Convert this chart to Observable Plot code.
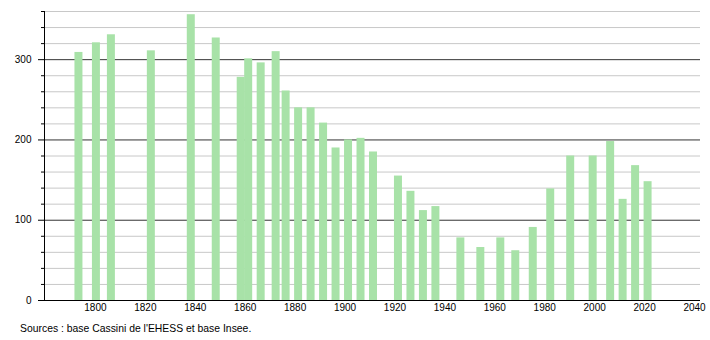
<!DOCTYPE html>
<html><head><meta charset="utf-8">
<script src="https://cdn.jsdelivr.net/npm/d3@7"></script>
<script src="https://cdn.jsdelivr.net/npm/@observablehq/plot@0.6"></script>
<style>
body{margin:0;background:#fff;font-family:"Liberation Sans",Arial,sans-serif;}
#chart{position:relative;width:710px;height:340px;}
#chart svg{position:absolute;left:0;top:0;}
#caption{position:absolute;left:20px;top:323px;font-size:10.4px;line-height:12px;color:#000;white-space:nowrap;}
</style></head><body>
<div id="chart"><div id="caption">Sources : base Cassini de l'EHESS et base Insee.</div></div>
<script>
const years = [1793, 1800, 1806, 1822, 1838, 1848, 1858, 1861, 1866, 1872, 1876, 1881, 1886, 1891, 1896, 1901, 1906, 1911, 1921, 1926, 1931, 1936, 1946, 1954, 1962, 1968, 1975, 1982, 1990, 1999, 2006, 2011, 2016, 2021];
const population = [309, 321, 331, 311, 356, 327, 278, 301, 296, 310, 261, 240, 240, 221, 190, 200, 202, 185, 155, 136, 112, 117, 78, 66, 78, 62, 91, 139, 180, 180, 198, 126, 168, 148];
const yMajorTicks = [0, 100, 200, 300];
const yMinorTicks = [20, 40, 60, 80, 120, 140, 160, 180, 220, 240, 260, 280, 320, 340, 360];
const xTicks = [1800, 1820, 1840, 1860, 1880, 1900, 1920, 1940, 1960, 1980, 2000, 2020, 2040];
const caption = "Sources : base Cassini de l'EHESS et base Insee.";

const data = years.map((y, i) => ({year: y, pop: population[i]}));
const barLeft = 1.2, barRight = 2.0;

const plot = Plot.plot({
  width: 710, height: 320,
  marginLeft: 44, marginRight: 10, marginTop: 11, marginBottom: 20,
  style: {fontFamily: "'Liberation Sans', Arial, sans-serif", fontSize: "10px", background: "transparent", color: "#000"},
  x: {domain: [1779.6, 2042.4]},
  y: {domain: [0, 360]},
  marks: [
    Plot.ruleY(yMinorTicks, {stroke: "#c8c8c8", strokeWidth: 1}),
    Plot.ruleY(yMajorTicks.filter(d => d > 0), {stroke: "#333", strokeWidth: 1}),
    Plot.rectY(data, {x1: d => d.year - barLeft, x2: d => d.year + barRight, y: "pop", fill: "#a8e2a8"}),
    Plot.ruleY([0], {stroke: "#000", strokeWidth: 1}),
    Plot.ruleX([1779.6], {y1: 0, y2: 360, stroke: "#000", strokeWidth: 1}),
    Plot.axisY({ticks: yMajorTicks, tickSize: 6, tickPadding: 7, label: null, tickFormat: "d", stroke: "#000"}),
    Plot.axisY({ticks: yMinorTicks, tickSize: 3, label: null, tickFormat: () => "", stroke: "#000"}),
    Plot.axisX({ticks: xTicks, tickSize: 0, tickPadding: 3, label: null, tickFormat: "d"})
  ]
});
document.getElementById("chart").prepend(plot);
document.getElementById("caption").textContent = caption;
</script>
</body></html>
